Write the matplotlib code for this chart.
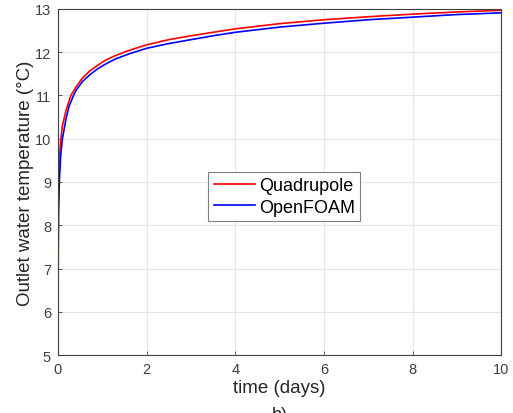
import matplotlib
matplotlib.use("Agg")
import matplotlib.pyplot as plt

t_red = [0, 0.01, 0.03, 0.06, 0.1, 0.18, 0.29, 0.41, 0.55, 0.72, 0.9, 1.08,
         1.29, 1.6, 2, 2.5, 3, 3.5, 4, 5, 6, 7, 8, 9, 10]
quadrupole = [8.0, 8.9, 9.5, 9.95, 10.3, 10.65, 11.0, 11.2, 11.4, 11.57, 11.7,
              11.82, 11.92, 12.04, 12.17, 12.29, 12.38, 12.46, 12.54, 12.66,
              12.75, 12.82, 12.88, 12.93, 12.97]
t_blue = [0, 0.003, 0.008, 0.015, 0.03, 0.06, 0.1, 0.18, 0.25, 0.35, 0.41,
          0.55, 0.72, 0.9, 1.08, 1.29, 1.6, 2, 2.5, 3, 3.5, 4, 5, 6, 7, 8, 9, 10]
openfoam = [5.5, 6.5, 7.6, 8.3, 9.0, 9.6, 10.0, 10.45, 10.75, 11.0, 11.12,
            11.32, 11.48, 11.62, 11.73, 11.84, 11.96, 12.09, 12.2, 12.29, 12.38,
            12.46, 12.58, 12.67, 12.75, 12.81, 12.87, 12.91]
xticks = [0, 2, 4, 6, 8, 10]
yticks = [5, 6, 7, 8, 9, 10, 11, 12, 13]

plt.rcParams['font.family'] = ['Liberation Sans', 'DejaVu Sans']

fig = plt.figure(figsize=(5.13, 4.14), dpi=100)
ax = fig.add_axes([0.113, 0.140, 0.864, 0.836])

ax.plot(t_red, quadrupole, color='#ff0000', lw=1.2, label='Quadrupole')
ax.plot(t_blue, openfoam, color='#0000ff', lw=1.2, label='OpenFOAM')

ax.set_xlim(0, 10)
ax.set_ylim(5, 13)
ax.set_xticks(xticks)
ax.set_yticks(yticks)
ax.grid(True, color='#e6e6e6', lw=0.8)
ax.set_axisbelow(True)
ax.tick_params(direction='in', length=3, width=0.6, colors='#404040',
               labelsize=10.5, labelcolor='#404040', pad=5)
for s in ax.spines.values():
    s.set_color('#404040')
    s.set_linewidth(0.8)

ax.set_xlabel('time (days)', fontsize=13.5, color='#262626', labelpad=2)
ax.set_ylabel('Outlet water temperature (°C)', fontsize=13.5, color='#262626',
              labelpad=0.5)

leg = ax.legend(loc='lower left', bbox_to_anchor=(0.339, 0.387), fancybox=False,
                edgecolor='#808080', framealpha=1, fontsize=13, handlelength=2.3,
                handletextpad=0.2, borderpad=0.3, labelspacing=0.25,
                borderaxespad=0)
leg.get_frame().set_linewidth(0.8)

# caption, cut off by the bottom edge as in the reference
fig.text(0.545, 0.017, 'b)', ha='center', va='top', fontsize=13, color='#262626')

fig.savefig('out.png', dpi=100)
